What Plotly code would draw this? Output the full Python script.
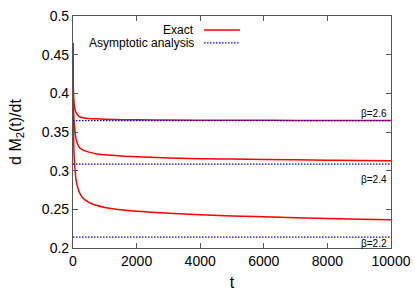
import plotly.graph_objects as go

t = [0, 5, 10, 20, 40, 70, 100, 150, 200, 300, 500, 700, 1000, 1500, 2000,
     3000, 4000, 5000, 6000, 7000, 8000, 9000, 10000]

exact_26 = [0.465, 0.43, 0.41, 0.395, 0.385, 0.378, 0.375, 0.372, 0.370, 0.3685,
            0.3675, 0.367, 0.3665, 0.366, 0.3658, 0.3655, 0.3653, 0.3652, 0.3651,
            0.365, 0.3649, 0.3648, 0.3648]
exact_24 = [0.465, 0.42, 0.395, 0.375, 0.36, 0.348, 0.34, 0.334, 0.33, 0.327,
            0.324, 0.322, 0.3205, 0.319, 0.318, 0.3165, 0.3155, 0.315, 0.3145,
            0.314, 0.3135, 0.313, 0.3127]
exact_22 = [0.465, 0.40, 0.37, 0.34, 0.315, 0.298, 0.287, 0.278, 0.272, 0.265,
            0.259, 0.2555, 0.2525, 0.2495, 0.2475, 0.245, 0.243, 0.2415, 0.2403,
            0.2392, 0.2382, 0.2373, 0.2365]

asym_t = [0, 10000]
asym_26 = [0.3646, 0.3646]
asym_24 = [0.3085, 0.3085]
asym_22 = [0.214, 0.214]

beta_labels = ["β=2.6", "β=2.4", "β=2.2"]
beta_label_y = [0.3745, 0.289, 0.2063]

x_ticks = [0, 2000, 4000, 6000, 8000, 10000]
x_ticktext = ["0", "2000", "4000", "6000", "8000", "10000"]
y_ticks = [0.2, 0.25, 0.3, 0.35, 0.4, 0.45, 0.5]
y_ticktext = ["0.2", "0.25", "0.3", "0.35", "0.4", "0.45", "0.5"]

FONT = "Liberation Sans, Arial, sans-serif"
RED = "#ff0000"
BLUE = "#0000ff"
DOT = "1.5px,1.5px"

fig = go.Figure()
for y in (exact_26, exact_24, exact_22):
    fig.add_trace(go.Scatter(x=t, y=y, mode="lines", line=dict(color=RED, width=1.5),
                             line_shape="spline", showlegend=False))
for y in (asym_26, asym_24, asym_22):
    fig.add_trace(go.Scatter(x=asym_t, y=y, mode="lines",
                             line=dict(color=BLUE, width=1.3, dash=DOT), showlegend=False))

annotations = []
for lab, yy in zip(beta_labels, beta_label_y):
    annotations.append(dict(x=10000, y=yy, xref="x", yref="y", text=lab, showarrow=False,
                            xanchor="right", yanchor="middle", xshift=-2,
                            font=dict(family=FONT, size=10, color="#000")))

# legend (gnuplot style: text on the left, sample on the right)
annotations.append(dict(x=0.387, y=0.94, xref="paper", yref="paper", text="Exact",
                        showarrow=False, xanchor="right", yanchor="middle",
                        font=dict(family=FONT, size=12, color="#000")))
annotations.append(dict(x=0.387, y=0.884, xref="paper", yref="paper", text="Asymptotic analysis",
                        showarrow=False, xanchor="right", yanchor="middle",
                        font=dict(family=FONT, size=12, color="#000")))
shapes = [
    dict(type="line", xref="paper", yref="paper", x0=0.412, x1=0.525, y0=0.94, y1=0.94,
         line=dict(color=RED, width=1.5)),
    dict(type="line", xref="paper", yref="paper", x0=0.412, x1=0.525, y0=0.884, y1=0.884,
         line=dict(color=BLUE, width=1.3, dash=DOT)),
]

axis_common = dict(showline=True, linecolor="#555", linewidth=1.2, mirror="ticks",
                   ticks="inside", ticklen=5, tickcolor="#555", showgrid=False,
                   zeroline=False, automargin=False,
                   tickfont=dict(family=FONT, size=14, color="#000"))

fig.update_layout(
    width=415, height=291,
    margin=dict(l=73, r=24, t=16, b=43),
    plot_bgcolor="white", paper_bgcolor="white",
    annotations=annotations, shapes=shapes,
    xaxis=dict(range=[0, 10000], tickvals=x_ticks, ticktext=x_ticktext,
               title=dict(text="t", font=dict(family=FONT, size=16, color="#000"), standoff=9),
               **axis_common),
    yaxis=dict(range=[0.2, 0.5], tickvals=y_ticks, ticktext=y_ticktext,
               title=dict(text="d M<sub>2</sub>(t)/dt", font=dict(family=FONT, size=16, color="#000"),
                          standoff=16),
               **axis_common),
)

fig.write_html("out.html", config={"displayModeBar": False},
               post_script="document.body.style.margin='0';document.body.style.overflow='hidden';")
